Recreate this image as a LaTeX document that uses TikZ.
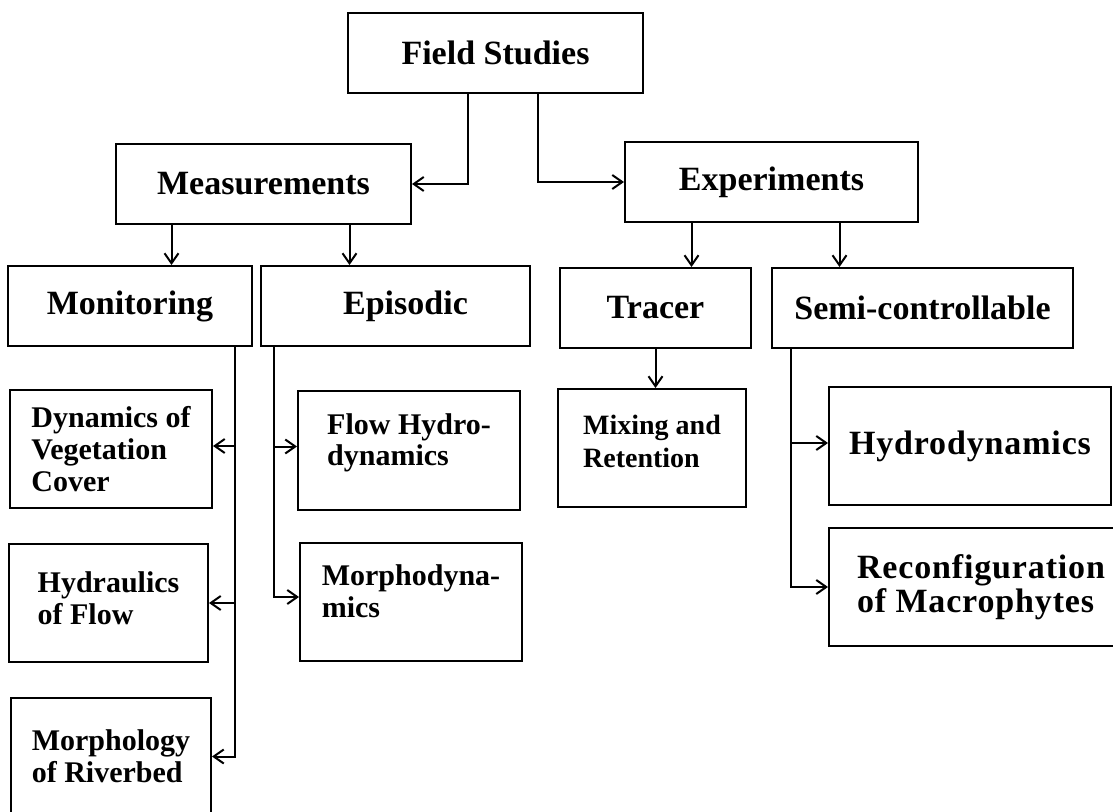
\documentclass[tikz,border=0pt]{standalone}
\usepackage{fontspec}
\setmainfont{Liberation Serif}
\newfontfamily\spacedfont[LetterSpace=2.5]{Liberation Serif}
\usetikzlibrary{arrows.meta}

\tikzset{
    box/.style={draw, line width=1pt, inner sep=0pt, minimum height=40pt, font=\fontsize{17}{18}\selectfont\bfseries},
    subbox/.style={draw, line width=1pt, inner sep=0pt, minimum height=59pt, align=left, font=\fontsize{15}{15.8}\selectfont\bfseries},
    widebox/.style={subbox, font=\spacedfont\fontsize{17}{15.5}\selectfont\bfseries},
    link/.style={line width=1pt, -{Straight Barb[length=5pt,width=7pt,line width=1pt]}}
}

\begin{document}
\begin{tikzpicture}[x=0.5pt, y=-0.5pt]
    \useasboundingbox (0,0) rectangle (1113,812);
    \clip (0,0) rectangle (1113,812);

    \node[box, minimum width=147.5pt] (fs)     at (495.5, 53)  {Field Studies};
    \node[box, minimum width=147.5pt] (meas)   at (263.5,184)  {Measurements};
    \node[box, minimum width=146.5pt] (exp)    at (771.5,182)  {Experiments};

    \node[box, minimum width=122pt]   (mon)    at (130,306)    {Monitoring\hspace{5pt}};
    \node[box, minimum width=134.5pt] (epi)    at (395.5,306)  {\hspace{10pt}Episodic};
    \node[box, minimum width=95.5pt]  (tracer) at (655.5,308)  {Tracer};
    \node[box, minimum width=150.5pt] (semi)   at (922.5,308)  {Semi-controllable};

    \node[subbox, minimum width=101pt]   (dvc)   at (111,449)    {Dynamics of\\Vegetation\\Cover};
    \node[subbox, minimum width=99.5pt, text depth=5pt]  (hyd)   at (108.5,603)  {Hydraulics\\of Flow};
    \node[subbox, minimum width=100pt]   (morph) at (111,756.5)  {Morphology\\of Riverbed};

    \node[subbox, minimum width=111pt, text depth=11pt]  (flow)  at (409,450.5)  {Flow Hydro-\\dynamics};
    \node[subbox, minimum width=111pt, text depth=11pt]  (mdyn)  at (411,602)    {Morphodyna-\\mics};

    \node[subbox, minimum width=94pt, text depth=7pt, font=\fontsize{14}{16.5}\selectfont\bfseries] (mix) at (652,448) {Mixing and\\Retention};

    \node[widebox, minimum width=141pt] (hydro)  at (970,446) {Hydrodynamics};
    \node[widebox, minimum width=152pt] (reconf) at (981,587) {Reconfiguration\\of Macrophytes};

    \draw[link] ([xshift=-14pt]fs.south) |- (meas.east);
    \draw[link] ([xshift=21pt]fs.south) |- (exp.west);

    \draw[link] ([xshift=-46pt]meas.south) -- ([xshift=-46pt]meas.south |- mon.north);
    \draw[link] ([xshift=43pt]meas.south) -- ([xshift=43pt]meas.south |- epi.north);
    \draw[link] ([xshift=-40pt]exp.south) -- ([xshift=-40pt]exp.south |- tracer.north);
    \draw[link] ([xshift=34pt]exp.south) -- ([xshift=34pt]exp.south |- semi.north);
    \draw[link] (tracer.south) -- (tracer.south |- mix.north);

    \draw[link] ([xshift=52.5pt]mon.south) |- ([yshift=1.5pt]dvc.east);
    \draw[link] ([xshift=52.5pt]mon.south) |- (hyd.east);
    \draw[link] ([xshift=52.5pt]mon.south) |- (morph.east);

    \draw[link] ([xshift=-61pt]epi.south) |- ([yshift=2pt]flow.west);
    \draw[link] ([xshift=-61pt]epi.south) |- ([yshift=2.5pt]mdyn.west);

    \draw[link] ([xshift=-66pt]semi.south) |- ([yshift=1.5pt]hydro.west);
    \draw[link] ([xshift=-66pt]semi.south) |- (reconf.west);
\end{tikzpicture}
\end{document}
